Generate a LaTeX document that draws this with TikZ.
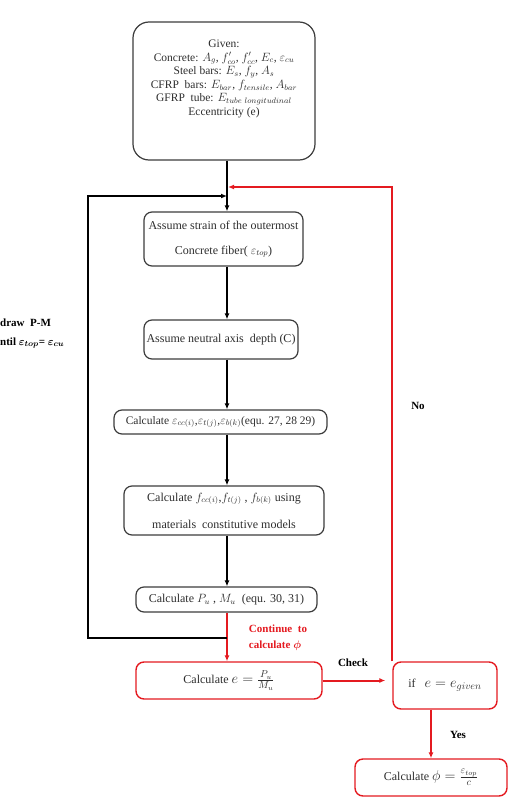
\documentclass[tikz,border=0pt]{standalone}
\usepackage{fontspec}
\setmainfont{Liberation Serif}
\usepackage{amsmath}
\usepackage{bm}
\usetikzlibrary{arrows.meta}
\definecolor{boxgray}{RGB}{60,60,60}
\definecolor{txtgray}{RGB}{45,45,45}
\definecolor{myred}{RGB}{228,26,32}
\tikzset{
  box/.style={draw=boxgray, line width=1.2pt, rounded corners=8pt, inner sep=0pt, text=txtgray, align=center, font=\fontsize{12}{14}\selectfont},
  redbox/.style={box, draw=myred, line width=1.4pt},
  conn/.style={draw=black, line width=1.3pt, -{Latex[length=6pt,width=5pt]}},
  redconn/.style={draw=myred, line width=2pt, -{Latex[length=6pt,width=5pt,color=myred]}},
  lbl/.style={font=\bfseries\fontsize{11}{13}\selectfont, inner sep=0pt}
}
\begin{document}
\begin{tikzpicture}[x=1pt,y=-1pt]
\useasboundingbox (0,0) rectangle (522,798);
% spine coordinates
\coordinate (sp) at (227,0);
\coordinate (yx) at (431,0);
% boxes
\node[box, rounded corners=16pt, minimum width=182pt, minimum height=138pt] (b1) at (224,91) {};
\node[text=txtgray, align=center, font=\fontsize{11.5}{13.6}\selectfont, inner sep=0pt] (t1) at (224,79)
 {Given:\\
  Concrete: $A_g$, $f'_{co}$, $f'_{cc}$, $E_c$, $\varepsilon_{cu}$\\
  Steel bars: $E_s$, $f_y$, $A_s$\\
  CFRP\ \ bars: $E_{bar}$, $f_{tensile}$, $A_{bar}$\\
  GFRP\ \ tube: $E_{tube\ longitudinal}$\\
  Eccentricity\ (e)};
\node[box, minimum width=159pt, minimum height=54pt, font=\fontsize{12}{25}\selectfont] (b2) at (223.5,239)
 {Assume strain of the outermost\\ Concrete fiber( $\varepsilon_{top}$)};
\node[box, minimum width=154pt, minimum height=39pt] (b3) at (221,339.5) {Assume neutral axis\ \ depth (C)};
\node[box, minimum width=213pt, minimum height=24pt, font=\fontsize{11.5}{14}\selectfont] (b4) at (220.5,422)
 {Calculate $\varepsilon_{cc(i)}$,$\varepsilon_{t(j)}$,$\varepsilon_{b(k)}$(equ. 27, 28 29)};
\node[box, minimum width=200pt, minimum height=49pt, font=\fontsize{12}{27}\selectfont] (b5) at (224,510.5)
 {Calculate $f_{cc(i)}$,$f_{t(j)}$ , $f_{b(k)}$ using\\ materials\ \ constitutive models};
\node[box, minimum width=181pt, minimum height=25pt] (b6) at (226.5,599.5) {Calculate $P_u$ , $M_u$\ \ (equ. 30, 31)};
\node[redbox, minimum width=186pt, minimum height=37pt] (b7) at (229,680.5) {Calculate {\Large$e = \frac{P_u}{M_u}$}};
\node[redbox, minimum width=104pt, minimum height=47pt] (b8) at (445,685.5) {if\ \ \ {\Large$e = e_{given}$}};
\node[redbox, minimum width=152pt, minimum height=37pt] (b9) at (431,777.5) {Calculate {\Large$\phi = \frac{\varepsilon_{top}}{c}$}};
% main spine
\draw[conn] (b1.south -| sp) -- (b2.north -| sp);
\draw[conn] (b2.south -| sp) -- (b3.north -| sp);
\draw[conn] (b3.south -| sp) -- (b4.north -| sp);
\draw[conn] (b4.south -| sp) -- (b5.north -| sp);
\draw[conn] (b5.south -| sp) -- (b6.north -| sp);
\draw[redconn] (b6.south -| sp) -- (b7.north -| sp);
% loop back
\coordinate (j1) at (227,638);
\coordinate (la) at (88,638);
\coordinate (lb) at (88,196);
\coordinate (lc) at (227,196);
\draw[conn] (j1) -- (la) -- (lb) -- (lc);
% red feedback
\coordinate (rj) at (228,187);
\draw[redconn] (b8.north west) -- (b8.north west |- rj) -- (rj);
\draw[redconn, shorten >=7pt] (b7.east) -- (b8.west |- b7.east);
\draw[redconn] (b8.south -| yx) -- (b9.north -| yx);
% labels
\node[lbl, anchor=west] (l1) at (0,323) {draw\ \ P-M};
\node[lbl, anchor=west] (l2) at (0,343) {ntil $\bm{\varepsilon}_{\bm{top}}$= $\bm{\varepsilon}_{\bm{cu}}$};
\node[lbl, text=myred, align=left, font=\bfseries\fontsize{11}{16}\selectfont] (l3) at (278,638) {Continue\ \ to\\ calculate $\bm{\phi}$};
\node[lbl] (l4) at (353,663) {Check};
\node[lbl] (l5) at (418,406) {No};
\node[lbl] (l6) at (458,735) {Yes};
\end{tikzpicture}
\end{document}
